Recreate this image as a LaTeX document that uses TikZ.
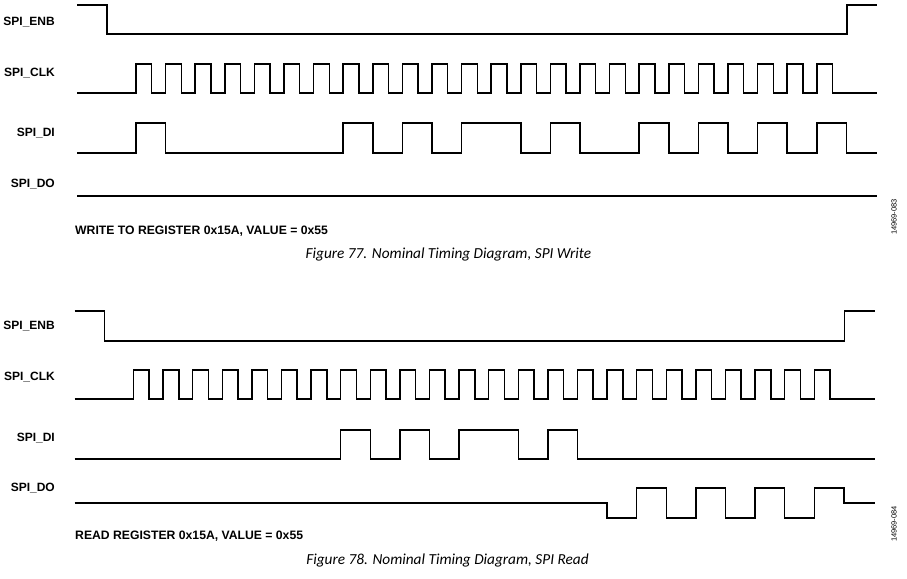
\documentclass[tikz,border=0pt]{standalone}
\usepackage{fontspec}
\setmainfont{Liberation Sans}
\newfontfamily\capfont{Carlito}

\tikzset{
	wave/.style={line width=1.5pt, line join=miter},
	siglabel/.style={anchor=base east, inner sep=0pt, font=\bfseries\fontsize{12}{14}\selectfont},
	note/.style={anchor=base west, inner sep=0pt, font=\bfseries\fontsize{12.2}{14}\selectfont},
	figcap/.style={anchor=base, inner sep=0pt, font=\capfont\itshape\fontsize{15.3}{18}\selectfont},
	figid/.style={rotate=90, inner sep=0pt, font=\fontsize{7.5}{9}\selectfont}
}

\begin{document}
\begin{tikzpicture}[x=1pt,y=-1pt]
	\useasboundingbox (0,0) rectangle (907,578);
	\def\per{29.6}

	% -- Write: signal names
	\node[siglabel] (wenb) at (55,25.5) {SPI\_ENB};
	\node[siglabel] (wclk) at (55,76.5) {SPI\_CLK};
	\node[siglabel] (wdi)  at (55,136.5) {SPI\_DI};
	\node[siglabel] (wdo)  at (55,187.5) {SPI\_DO};

	% -- Write: waveforms
	\begin{scope}
		\def\xs{136}
		\draw[wave] (77,5) -- (107,5) -- (107,34) -- (847,34) -- (847,5) -- (877,5);
		\draw[wave] (77,93) -- (\xs,93)
			\foreach \i in {0,...,23} { -- ({\xs+\per*\i},64) -- ({\xs+\per*\i+15.7},64)
				-- ({\xs+\per*\i+15.7},93) -- ({\xs+\per*(\i+1)},93) } -- (877,93);
		\draw[wave] (77,153) -- (\xs,153)
			\foreach \b [count=\i from 0] in {1,0,0,0,0,0,0,1,0,1,0,1,1,0,1,0,0,1,0,1,0,1,0,1}
				{ -- ({\xs+\per*\i},{153-30*\b}) -- ({\xs+\per*(\i+1)},{153-30*\b}) }
			-- ({\xs+\per*24},153) -- (877,153);
		\draw[wave] (77,196) -- (877,196);
	\end{scope}

	\node[note] (wtext) at (75,234) {WRITE TO REGISTER 0x15A, VALUE = 0x55};
	\node[figcap] (wcap) at (448.5,258) {Figure 77. Nominal Timing Diagram, SPI Write};
	\node[figid] (wid) at (894,217) {14969-083};

	% -- Read: signal names
	\node[siglabel] (renb) at (55,329) {SPI\_ENB};
	\node[siglabel] (rclk) at (55,380.5) {SPI\_CLK};
	\node[siglabel] (rdi)  at (55,441) {SPI\_DI};
	\node[siglabel] (rdo)  at (55,491.5) {SPI\_DO};

	% -- Read: waveforms
	\begin{scope}[xshift=-2.5pt]
		\def\xs{136}
		\draw[wave] (77,311) -- (107,311) -- (107,341) -- (847,341) -- (847,311) -- (877,311);
		\draw[wave] (77,399) -- (\xs,399)
			\foreach \i in {0,...,23} { -- ({\xs+\per*\i},370) -- ({\xs+\per*\i+15.7},370)
				-- ({\xs+\per*\i+15.7},399) -- ({\xs+\per*(\i+1)},399) } -- (877,399);
		\draw[wave] (77,459) -- (\xs,459)
			\foreach \b [count=\i from 0] in {0,0,0,0,0,0,0,1,0,1,0,1,1,0,1,0,0,0,0,0,0,0,0,0}
				{ -- ({\xs+\per*\i},{459-29*\b}) -- ({\xs+\per*(\i+1)},{459-29*\b}) } -- (877,459);
		% tri-state, then data out
		\draw[wave] (77,503) -- ({\xs+\per*16},503)
			\foreach \b [count=\i from 16] in {0,1,0,1,0,1,0,1}
				{ -- ({\xs+\per*\i},{518-30*\b}) -- ({\xs+\per*(\i+1)},{518-30*\b}) }
			-- ({\xs+\per*24},503) -- (877,503);
	\end{scope}

	\node[note] (rtext) at (75,539) {READ REGISTER 0x15A, VALUE = 0x55};
	\node[figcap] (rcap) at (447.5,564) {Figure 78. Nominal Timing Diagram, SPI Read};
	\node[figid] (rid) at (894,524) {14969-084};
\end{tikzpicture}
\end{document}
